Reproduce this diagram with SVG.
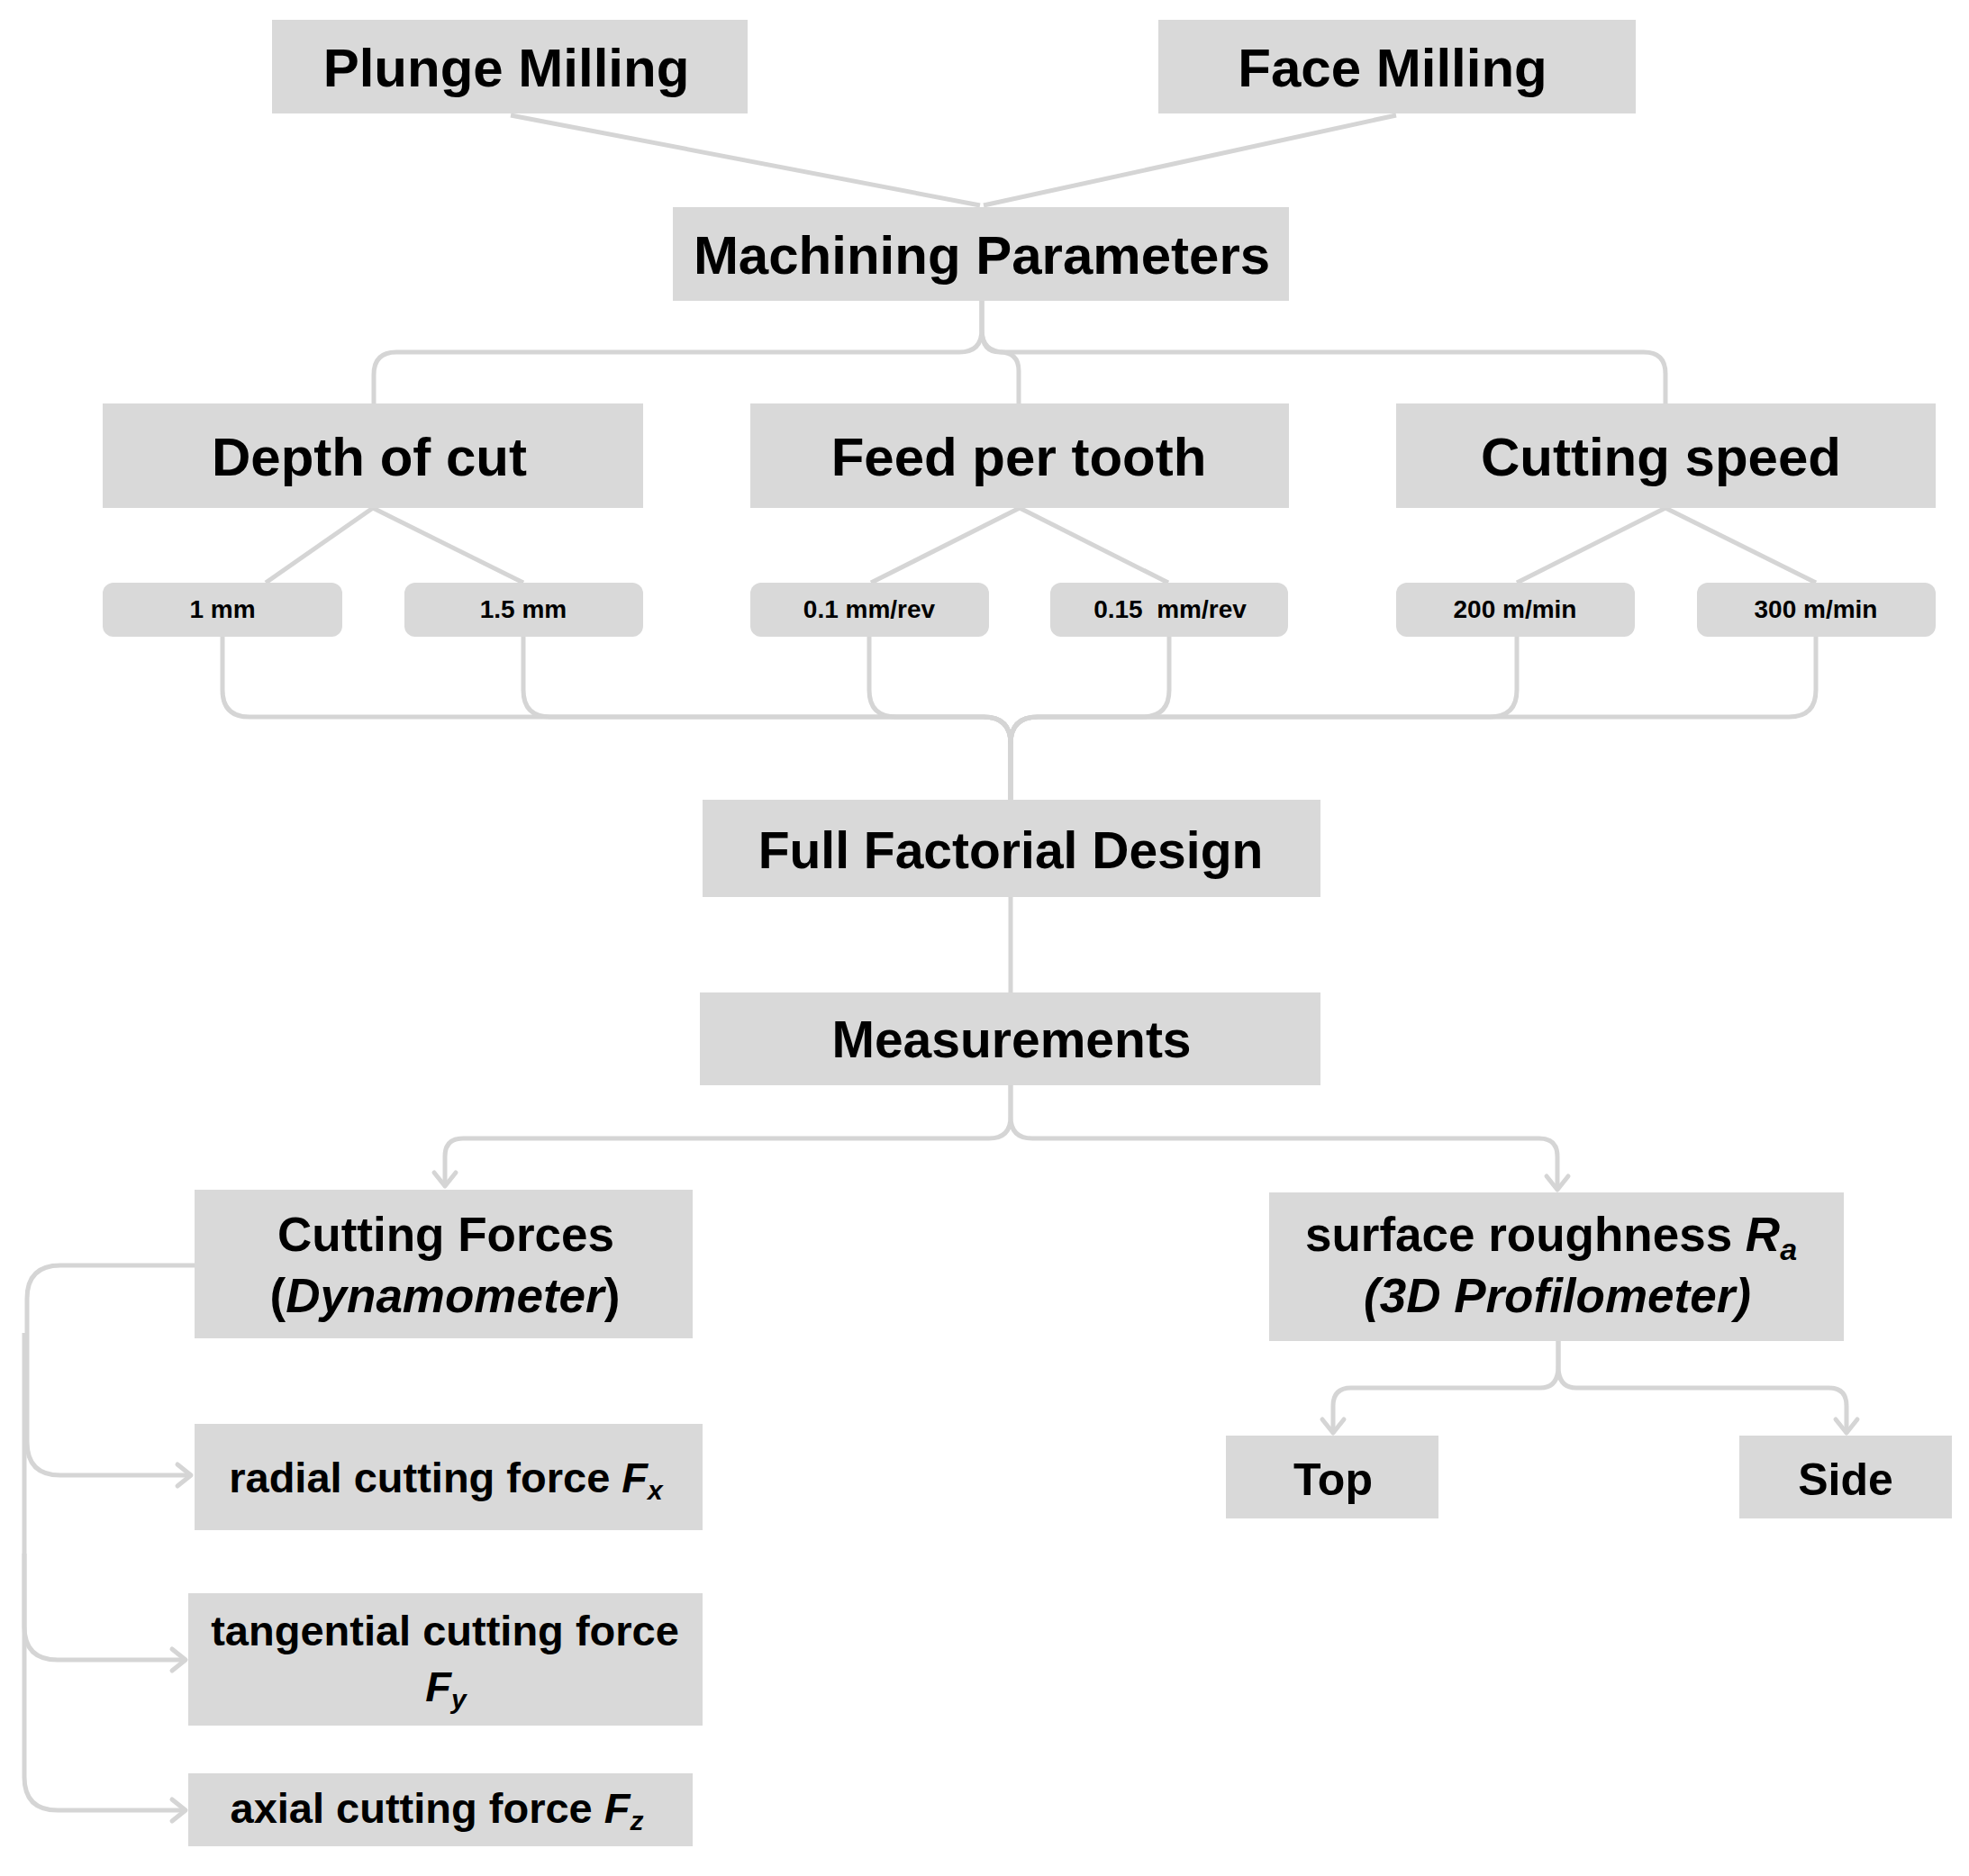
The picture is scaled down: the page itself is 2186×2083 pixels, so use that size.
<svg xmlns="http://www.w3.org/2000/svg" width="2186" height="2083" viewBox="0 0 2186 2083">
<style>
.box{fill:#d9d9d9}
.t{font-family:"Liberation Sans",Arial,sans-serif;font-weight:bold;fill:#000;text-anchor:middle}
.big{font-size:60px}
.mid{font-size:57px}
.sm{font-size:28px}
.m52{font-size:53px}
.m47{font-size:47px}
.it{font-style:italic}
.c{fill:none;stroke:#d5d5d5;stroke-width:5;stroke-linecap:butt;stroke-linejoin:round}
</style>
<defs>
<marker id="arr" markerUnits="userSpaceOnUse" markerWidth="40" markerHeight="40" viewBox="-20 -20 40 40" refX="0" refY="0" orient="auto" overflow="visible">
<path d="M-15,-12 L0,0 L-15,12" fill="none" stroke="#d5d5d5" stroke-width="5" stroke-linecap="round" stroke-linejoin="round"/>
</marker>
</defs>
<rect width="2186" height="2083" fill="#ffffff"/>
<g id="connectors">
<path class="c" d="M567 128 L1088 228"/>
<path class="c" d="M1550 128 L1092 228"/>
<path class="c" d="M1090 334 V366 Q1090 391 1065 391 H440 Q415 391 415 416 V448"/>
<path class="c" d="M1090 334 V366 Q1090 391 1110 391 Q1131 391 1131 412 V448"/>
<path class="c" d="M1090 334 V366 Q1090 391 1115 391 H1825 Q1849 391 1849 415 V448"/>
<path class="c" d="M414 564 L295 647"/>
<path class="c" d="M414 564 L581 647"/>
<path class="c" d="M1132 564 L967 647"/>
<path class="c" d="M1132 564 L1297 647"/>
<path class="c" d="M1849 564 L1684 647"/>
<path class="c" d="M1849 564 L2016 647"/>
<path class="c" d="M247 707 V766 Q247 796 277 796 H1092 Q1122 796 1122 826 V888"/>
<path class="c" d="M581 707 V766 Q581 796 611 796 H1092 Q1122 796 1122 826 V888"/>
<path class="c" d="M965 707 V766 Q965 796 995 796 H1092 Q1122 796 1122 826 V888"/>
<path class="c" d="M1298 707 V766 Q1298 796 1268 796 H1152 Q1122 796 1122 826 V888"/>
<path class="c" d="M1684 707 V766 Q1684 796 1654 796 H1152 Q1122 796 1122 826 V888"/>
<path class="c" d="M2016 707 V766 Q2016 796 1986 796 H1152 Q1122 796 1122 826 V888"/>
<path class="c" d="M1122 996 V1102"/>
<path class="c" d="M1122 1205 V1240 Q1122 1264 1098 1264 H514 Q494 1264 494 1284 V1317" marker-end="url(#arr)"/>
<path class="c" d="M1122 1205 V1240 Q1122 1264 1146 1264 H1709 Q1729 1264 1729 1284 V1321" marker-end="url(#arr)"/>
<path class="c" d="M1730 1489 V1517 Q1730 1541 1710 1541 H1500 Q1480 1541 1480 1561 V1591" marker-end="url(#arr)"/>
<path class="c" d="M1730 1489 V1517 Q1730 1541 1750 1541 H2030 Q2050 1541 2050 1561 V1591" marker-end="url(#arr)"/>
<path class="c" d="M216 1405 H67 Q30 1405 30 1442 V1601 Q30 1638 67 1638 H212" marker-end="url(#arr)"/>
<path class="c" d="M27 1480 V1806 Q27 1843 64 1843 H206" marker-end="url(#arr)"/>
<path class="c" d="M27 1725 V1973 Q27 2010 64 2010 H206" marker-end="url(#arr)"/>
</g>
<g id="plunge"><rect class="box" x="302" y="22" width="528" height="104"/><text class="t big" x="562" y="96">Plunge Milling</text></g>
<g id="face"><rect class="box" x="1286" y="22" width="530" height="104"/><text class="t big" x="1546" y="96">Face Milling</text></g>
<g id="machining"><rect class="box" x="747" y="230" width="684" height="104"/><text class="t big" x="1090" y="304">Machining Parameters</text></g>
<g id="depth"><rect class="box" x="114" y="448" width="600" height="116"/><text class="t big" x="410" y="528">Depth of cut</text></g>
<g id="feed"><rect class="box" x="833" y="448" width="598" height="116"/><text class="t big" x="1131" y="528">Feed per tooth</text></g>
<g id="speed"><rect class="box" x="1550" y="448" width="599" height="116"/><text class="t big" x="1844" y="528">Cutting speed</text></g>
<g id="d1"><rect class="box" x="114" y="647" width="266" height="60" rx="12"/><text class="t sm" x="247" y="686">1 mm</text></g>
<g id="d2"><rect class="box" x="449" y="647" width="265" height="60" rx="12"/><text class="t sm" x="581" y="686">1.5 mm</text></g>
<g id="f1"><rect class="box" x="833" y="647" width="265" height="60" rx="12"/><text class="t sm" x="965" y="686">0.1 mm/rev</text></g>
<g id="f2"><rect class="box" x="1166" y="647" width="264" height="60" rx="12"/><text class="t sm" x="1299" y="686" xml:space="preserve">0.15  mm/rev</text></g>
<g id="s1"><rect class="box" x="1550" y="647" width="265" height="60" rx="12"/><text class="t sm" x="1682" y="686">200 m/min</text></g>
<g id="s2"><rect class="box" x="1884" y="647" width="265" height="60" rx="12"/><text class="t sm" x="2016" y="686">300 m/min</text></g>
<g id="ffd"><rect class="box" x="780" y="888" width="686" height="108"/><text class="t mid" x="1122" y="964">Full Factorial Design</text></g>
<g id="meas"><rect class="box" x="777" y="1102" width="689" height="103"/><text class="t mid" x="1123" y="1174">Measurements</text></g>
<g id="forces"><rect class="box" x="216" y="1321" width="553" height="165"/><text class="t m52" x="495" y="1389">Cutting Forces</text><text class="t m52" x="494" y="1457">(<tspan class="it">Dynamometer</tspan>)</text></g>
<g id="rough"><rect class="box" x="1409" y="1324" width="638" height="165"/><text class="t m52" x="1722" y="1389">surface roughness <tspan class="it">R</tspan><tspan class="it" font-size="34" dy="10">a</tspan></text><text class="t m52 it" x="1729" y="1457">(3D Profilometer)</text></g>
<g id="radial"><rect class="box" x="216" y="1581" width="564" height="118"/><text class="t m47" x="495" y="1657">radial cutting force <tspan class="it">F</tspan><tspan class="it" font-size="30" dy="8">x</tspan></text></g>
<g id="tangential"><rect class="box" x="209" y="1769" width="571" height="147"/><text class="t m47" x="494" y="1827">tangential cutting force</text><text class="t m47" x="495" y="1889"><tspan class="it">F</tspan><tspan class="it" font-size="30" dy="8">y</tspan></text></g>
<g id="axial"><rect class="box" x="209" y="1969" width="560" height="81"/><text class="t m47" x="485" y="2024">axial cutting force <tspan class="it">F</tspan><tspan class="it" font-size="30" dy="8">z</tspan></text></g>
<g id="top"><rect class="box" x="1361" y="1594" width="236" height="92"/><text class="t" font-size="50" x="1480" y="1660">Top</text></g>
<g id="side"><rect class="box" x="1931" y="1594" width="236" height="92"/><text class="t" font-size="50" x="2049" y="1660">Side</text></g>
</svg>
